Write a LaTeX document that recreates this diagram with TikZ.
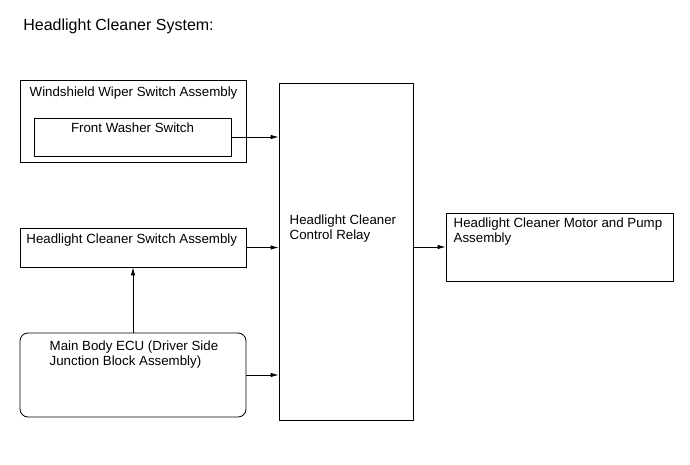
\documentclass[tikz,border=0pt]{standalone}
\usepackage{fontspec}
\setmainfont{Liberation Sans}
\usetikzlibrary{arrows.meta,positioning}

\begin{document}
\begin{tikzpicture}[x=1pt,y=-1pt,line width=0.8pt,
  >={Latex[length=8pt,width=4.5pt]}]
  \tikzstyle{block}=[draw,rectangle,inner sep=0pt]
  \tikzstyle{txt}=[inner sep=0pt,anchor=north west,align=left,
    font=\fontsize{13.3}{15.3}\selectfont]

  \useasboundingbox (0,0) rectangle (690,465);

  \node[anchor=north west,inner sep=0pt,font=\fontsize{16}{19}\selectfont]
    (title) at (23,18.5) {Headlight Cleaner System:};

  \node[block,minimum width=226pt,minimum height=82pt]  (wws)   at (133,121)   {};
  \node[block,minimum width=197pt,minimum height=38pt]  (fws)   at (132.5,137) {};
  \node[block,minimum width=226pt,minimum height=39pt]  (hcs)   at (133,247.5) {};
  \node[block,rounded corners=8pt,minimum width=226pt,minimum height=84pt]
                                                          (ecu)   at (133,375)   {};
  \node[block,minimum width=134pt,minimum height=337pt] (relay) at (346,251.5) {};
  \node[block,minimum width=227pt,minimum height=68pt]  (motor) at (559.5,247) {};

  \node[txt] (wws_t)   at (29.3,86.4)  {Windshield Wiper Switch Assembly};
  \node[txt,anchor=north] (fws_t) at (132.5,122) {Front Washer Switch};
  \node[txt] (hcs_t)   at (26,233.4)   {Headlight Cleaner Switch Assembly};
  \node[txt] (ecu_t)   at (49.3,340)   {Main Body ECU (Driver Side\\Junction Block Assembly)};
  \node[txt] (relay_t) at (289.3,214.4){Headlight Cleaner\\Control Relay};
  \node[txt] (motor_t) at (453.3,217.4){Headlight Cleaner Motor and Pump\\Assembly};

  \path[->]
  (fws.east)   edge (fws.east -| relay.west)
  (hcs.east)   edge (hcs.east -| relay.west)
  (ecu.east)   edge (ecu.east -| relay.west)
  (ecu.north)  edge (hcs.south)
  (relay.east |- motor.west) edge (motor.west);
\end{tikzpicture}
\end{document}
